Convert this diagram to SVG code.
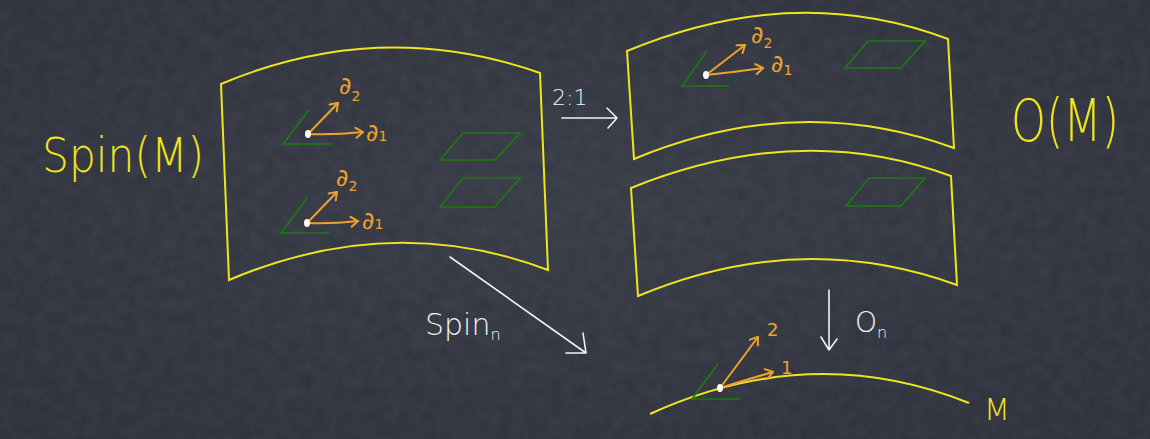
<svg xmlns="http://www.w3.org/2000/svg" width="1150" height="439" viewBox="0 0 1150 439">
<defs>
<style>
.panel{fill:none;stroke:#f0e41e;stroke-width:2;stroke-linejoin:miter}
.grn{fill:none;stroke:#1d7a12;stroke-width:1.6}
.orn{fill:none;stroke:#f0a12c;stroke-width:2;stroke-linecap:round;stroke-linejoin:round}
.wht{fill:none;stroke:#f2f2f2;stroke-width:1.6;stroke-linecap:round;stroke-linejoin:round}
.ylab{fill:#f0e41e;font-family:"DejaVu Sans",sans-serif;font-weight:200}
.olab{fill:#f0a12c;font-family:"DejaVu Sans",sans-serif;font-weight:normal}
.wlab{fill:#f2f2f2;font-family:"DejaVu Sans",sans-serif;font-weight:200}
.dot{fill:#ffffff}
</style>
<marker id="oa" markerWidth="12" markerHeight="12" refX="9" refY="6" orient="auto" markerUnits="userSpaceOnUse">
<path d="M2,1 L9,6 L2,11" fill="none" stroke="#f0a12c" stroke-width="2" stroke-linecap="round" stroke-linejoin="round"/>
</marker>
<radialGradient id="bg" cx="50%" cy="45%" r="75%">
<stop offset="0" stop-color="#353944"/>
<stop offset="1" stop-color="#2c2f39"/>
</radialGradient>
<filter id="noise" x="0" y="0" width="100%" height="100%">
<feTurbulence type="fractalNoise" baseFrequency="0.08" numOctaves="2" seed="3"/>
<feColorMatrix type="matrix" values="0 0 0 0 0.6  0 0 0 0 0.62  0 0 0 0 0.7  0 0 0 0.08 0"/>
</filter>
</defs>
<rect width="1150" height="439" fill="url(#bg)"/>
<rect width="1150" height="439" filter="url(#noise)"/>

<g id="spin-panel">
<path class="panel" d="M221,84 Q380,17 540,73 L548,270 Q392,211 229,280 Z"/>
<path class="grn" d="M440,160 L495,160 L520,133 L463,133 Z"/>
<path class="grn" d="M440,207 L495,207 L520,178 L463,178 Z"/>
</g>
<g id="spin-frame-1">
<path class="grn" d="M309,110 L283,144 L332,144"/>
<path class="orn" d="M308,134 Q335,135 363,132" marker-end="url(#oa)"/>
<path class="orn" d="M308,134 L338,103" marker-end="url(#oa)"/>
<ellipse class="dot" cx="308" cy="134" rx="3" ry="4"/>
<text class="olab" x="339" y="94" font-size="24">∂<tspan font-size="14" dy="7">2</tspan></text>
<text class="olab" x="366" y="141" font-size="24">∂<tspan font-size="14" dy="0">1</tspan></text>
</g>
<g id="spin-frame-2">
<path class="grn" d="M307,198 L281,233 L329,233"/>
<path class="orn" d="M307,223 Q332,224 358,221" marker-end="url(#oa)"/>
<path class="orn" d="M307,223 L337,192" marker-end="url(#oa)"/>
<ellipse class="dot" cx="307" cy="223" rx="3" ry="4"/>
<text class="olab" x="336" y="186" font-size="24">∂<tspan font-size="14" dy="5">2</tspan></text>
<text class="olab" x="362" y="229" font-size="24">∂<tspan font-size="14" dy="0">1</tspan></text>
</g>

<g id="o-panel-top">
<path class="panel" d="M627,51 Q795,-19 948,39 L954,148 Q797,91 634,159 Z"/>
<path class="grn" d="M845,68 L901,68 L925,41 L868,41 Z"/>
</g>
<g id="o-frame-top">
<path class="grn" d="M707,51 L682,86 L729,86"/>
<path class="orn" d="M706,75 Q735,72 763,68" marker-end="url(#oa)"/>
<path class="orn" d="M706,75 L745,45" marker-end="url(#oa)"/>
<ellipse class="dot" cx="706" cy="75" rx="3" ry="4"/>
<text class="olab" x="751" y="43" font-size="24">∂<tspan font-size="14" dy="5">2</tspan></text>
<text class="olab" x="771" y="72" font-size="24">∂<tspan font-size="14" dy="3">1</tspan></text>
</g>

<g id="o-panel-bottom">
<path class="panel" d="M631,188 Q800,120 951,176 L957,285 Q800,228 638,296 Z"/>
<path class="grn" d="M846,206 L901,206 L925,178 L869,178 Z"/>
</g>

<g id="manifold">
<path class="panel" d="M650,414 Q812,340 969,403" />
<text class="ylab" x="984" y="420" font-size="30">M</text>
</g>
<g id="m-frame">
<path class="grn" d="M718,364 L692,399 L740,399"/>
<path class="orn" d="M720,388 Q745,380 773,372" marker-end="url(#oa)"/>
<path class="orn" d="M720,388 L758,337" marker-end="url(#oa)"/>
<ellipse class="dot" cx="720" cy="388" rx="3" ry="4"/>
<text class="olab" x="767" y="336" font-size="18">2</text>
<text class="olab" x="781" y="374" font-size="18">1</text>
</g>

<g id="spin-label">
<text class="ylab" x="42" y="172" font-size="48" textLength="162" lengthAdjust="spacingAndGlyphs">Spin(M)</text>
</g>
<g id="o-label">
<text class="ylab" x="1011" y="141" font-size="58" textLength="108" lengthAdjust="spacingAndGlyphs">O(M)</text>
</g>

<g id="connectors">
<path class="wht" d="M562,118 L617,118 M607,108 L617,118 L608,128"/>
<path class="wht" d="M450,257 L586,353 M583,333 L586,353 L566,353"/>
<path class="wht" d="M829,290 L829,350 M821,337 L829,350 L837,339"/>
<text class="wlab" x="552" y="105" font-size="22">2:1</text>
<text class="wlab" x="425" y="335" font-size="30">Spin<tspan font-size="16" dy="5">n</tspan></text>
<text class="wlab" x="855" y="332" font-size="28">O<tspan font-size="16" dy="6">n</tspan></text>
</g>
</svg>
